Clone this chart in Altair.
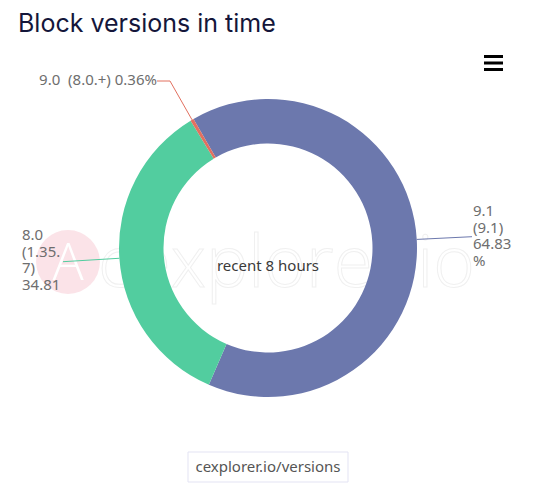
import math
import altair as alt
import pandas as pd

# ---- data ----
versions = ["9.1 (9.1)", "8.0 (1.35.7)", "9.0  (8.0.+)"]
shares = [64.83, 34.81, 0.36]
colors = ["#6c78ad", "#52cd9f", "#e2705f"]
label_lines = [["9.1", "(9.1)", "64.83", "%"], ["8.0", "(1.35.", "7)", "34.81"], ["9.0\u00a0\u00a0(8.0.+) 0.36%"]]

title_text = "Block versions in time"
center_text = "recent 8 hours"
footer_text = "cexplorer.io/versions"
watermark_text = "cexplorer.io"

# ---- layout constants (pixels, chart coordinates) ----
W, H = 524, 478
CX, CY = 260, 240
R_OUT, R_IN = 149, 104.5
START = -math.radians(30)

df = pd.DataFrame({"version": versions, "share": shares, "order": range(len(versions))})

total = sum(shares)
cum = 0
mids = []
for s in shares:
    a0 = START + 2 * math.pi * cum / total
    cum += s
    a1 = START + 2 * math.pi * cum / total
    mids.append((a0 + a1) / 2)

# label line anchor points derived from slice mid-angles
anchor_x = [CX + R_OUT * math.sin(m) for m in mids]
anchor_y = [CY - R_OUT * math.cos(m) for m in mids]

# label-line bends / ends (ECharts-like guide lines)
lines_rows = []
bends = [[(464, 228.7)], [(55, 253.7)], [(162, 73), (149, 73)]]
for i, pts in enumerate(bends):
    seq = [(anchor_x[i], anchor_y[i])] + pts
    for j, (x, y) in enumerate(seq):
        lines_rows.append({"version": versions[i], "k": j, "px": x, "py": y})
lines_df = pd.DataFrame(lines_rows)

color_scale = alt.Scale(domain=versions, range=colors)

base_px = alt.Scale(domain=[0, W], range=[0, W])
base_py = alt.Scale(domain=[0, H], range=[0, H])

# watermark
wm_circle = alt.Chart(pd.DataFrame({"a": [0]})).mark_circle(
    size=math.pi * 36 * 36, color="#fbe3e8", opacity=1
).encode(x=alt.value(60), y=alt.value(254))
wm_logo = alt.Chart(pd.DataFrame({"t": ["A"]})).mark_text(
    font="Open Sans", fontSize=52, fontWeight=300, color="white", baseline="middle", align="center"
).encode(x=alt.value(60), y=alt.value(256), text="t:N")
wm_text = alt.Chart(pd.DataFrame({"t": [watermark_text]})).mark_text(
    font="Open Sans", fontSize=71, fontWeight=300, fill="white", stroke="#f0f0f0", strokeWidth=1,
    align="left", baseline="alphabetic"
).encode(x=alt.value(90), y=alt.value(279), text="t:N")

# donut
donut = alt.Chart(df).mark_arc(innerRadius=R_IN, outerRadius=R_OUT, stroke="white", strokeWidth=0).encode(
    theta=alt.Theta("share:Q", stack=True, scale=alt.Scale(range=[START, START + 2 * math.pi])),
    color=alt.Color("version:N", scale=color_scale, legend=None),
    order=alt.Order("order:Q"),
    x=alt.value(CX),
    y=alt.value(CY),
)

guide = alt.Chart(lines_df).mark_line(strokeWidth=1).encode(
    x=alt.X("px:Q", scale=base_px, axis=None),
    y=alt.Y("py:Q", scale=base_py, axis=None),
    detail="version:N",
    order="k:Q",
    color=alt.Color("version:N", scale=color_scale, legend=None),
)

lab_df = pd.DataFrame({
    "lines": label_lines,
    "lx": [465, 14, 149],
    "ly": [208, 232, 77],
})
labels_left = alt.Chart(lab_df.iloc[:2]).mark_text(
    font="Noto Sans", fontSize=15, color="#6e6e6e", align="left", baseline="alphabetic", lineHeight=16.5
).encode(
    x=alt.X("lx:Q", scale=base_px, axis=None),
    y=alt.Y("ly:Q", scale=base_py, axis=None),
    text="lines",
)
labels_right = alt.Chart(lab_df.iloc[2:]).mark_text(
    font="Noto Sans", fontSize=15, color="#6e6e6e", align="right", baseline="alphabetic"
).encode(
    x=alt.X("lx:Q", scale=base_px, axis=None),
    y=alt.Y("ly:Q", scale=base_py, axis=None),
    text="lines",
)

center = alt.Chart(pd.DataFrame({"t": [center_text]})).mark_text(
    font="Noto Sans", fontSize=15, color="#3a3a3a", align="center", baseline="middle"
).encode(x=alt.value(CX), y=alt.value(258), text="t:N")

title = alt.Chart(pd.DataFrame({"t": [title_text]})).mark_text(
    font="Inter", fontSize=25, color="#14163a", align="left", baseline="alphabetic"
).encode(x=alt.value(10), y=alt.value(24), text="t:N")

menu = [
    alt.Chart(pd.DataFrame({"a": [0]})).mark_rule(strokeWidth=3, color="black").encode(
        x=alt.value(476), x2=alt.value(495), y=alt.value(yy)
    )
    for yy in (48.5, 55, 61.5)
]

footer_box = alt.Chart(pd.DataFrame({"a": [0]})).mark_rect(
    fill="white", stroke="#e3e3f3", strokeWidth=1
).encode(x=alt.value(180), x2=alt.value(340), y=alt.value(444), y2=alt.value(474))
footer = alt.Chart(pd.DataFrame({"t": [footer_text]})).mark_text(
    font="Noto Sans", fontSize=15, color="#555555", align="center", baseline="middle"
).encode(x=alt.value(260), y=alt.value(459), text="t:N")

chart = alt.layer(
    wm_circle, wm_logo, wm_text, guide, donut, labels_left, labels_right, center, title,
    *menu, footer_box, footer
).properties(
    width=W, height=H, autosize=alt.AutoSizeParams(type="none"), padding=0
).configure_view(stroke=None)

chart.save("out.html", embed_options={"renderer": "svg", "actions": False})
